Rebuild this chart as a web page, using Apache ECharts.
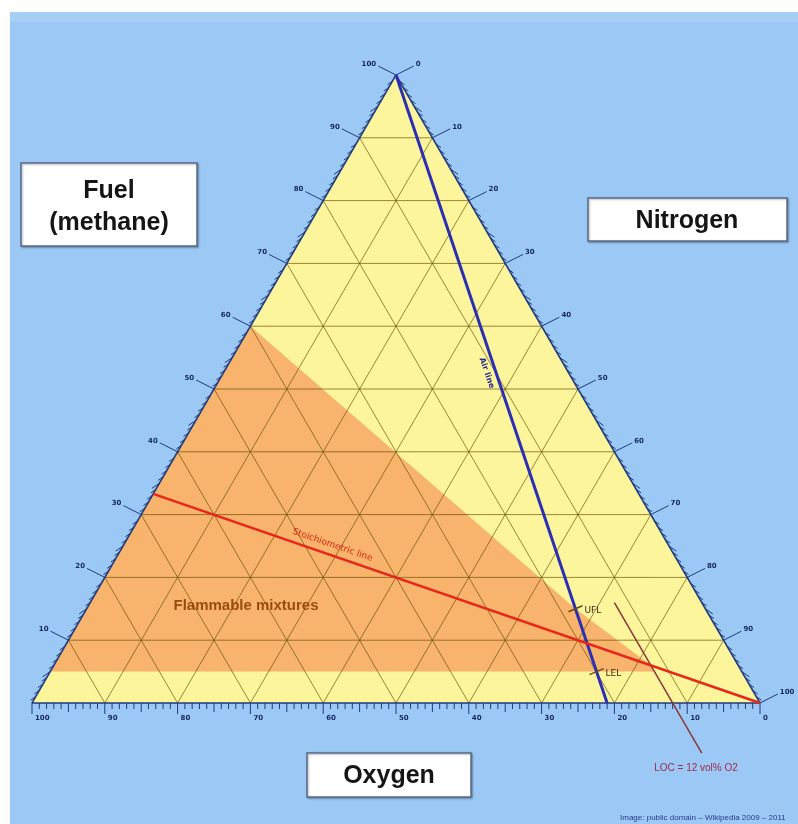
<!DOCTYPE html>
<html>
<head>
<meta charset="utf-8">
<title>Methane flammability diagram</title>
<script src="https://cdn.jsdelivr.net/npm/echarts@6/dist/echarts.min.js"></script>
<style>
  html, body { margin: 0; padding: 0; background: #fff; }
  #chart { width: 798px; height: 824px; }
</style>
</head>
<body>
<div id="chart"></div>
<script>
// all ternary points are [fuel, oxygen, nitrogen] in vol%
var gridLevels = [10, 20, 30, 40, 50, 60, 70, 80, 90];
var fuelTicks = [10, 20, 30, 40, 50, 60, 70, 80, 90, 100];
var nitrogenTicks = [0, 10, 20, 30, 40, 50, 60, 70, 80, 90, 100];
var oxygenTicks = [0, 10, 20, 30, 40, 50, 60, 70, 80, 90, 100];

var flammableRegion = [[60, 40, 0], [15, 17.85, 67.15], [6, 12, 82], [5, 12, 83], [5, 95, 0]];
var airLine = [[100, 0, 0], [0, 21, 79]];
var stoichLine = [[33.3, 66.7, 0], [0, 0, 100]];
var locLine = [[16, 12, 72], [-8, 12, 96]];
var limitNames = ['UFL', 'LEL'];
var limitPoints = [[15, 17.85, 67.15], [5, 19.95, 75.05]];

var H = Math.sqrt(3) / 2;
function toXY(p) { return [p[2] + p[0] / 2, p[0] * H]; }

var navy = '#1f3a7d';
var tickFont = 'bold 7px "DejaVu Sans"';

// edges: 0 = fuel (left), 1 = nitrogen (right), 2 = oxygen (bottom)
function edgePoint(edge, v) {
  if (edge === 0) return [v, 100 - v, 0];
  if (edge === 1) return [100 - v, 0, v];
  return [0, v, 100 - v];
}
var tickDir = [[-0.82, 0.57], [0.82, 0.57], [0, 1]];
var leadDir = [[-0.89, -0.45], [0.89, -0.45], [0, 1]];

// segments of the triangular grid
var gridSegs = [];
gridLevels.forEach(function (L) {
  gridSegs.push([[L, 100 - L, 0], [L, 0, 100 - L]]);
  gridSegs.push([[0, 100 - L, L], [100 - L, 0, L]]);
  gridSegs.push([[0, L, 100 - L], [100 - L, L, 0]]);
});

// minor ticks every 1 %
var tickData = [];
for (var e = 0; e < 3; e++) {
  for (var v = 1; v < 100; v++) {
    if (v % 10 !== 0) tickData.push([v, e]);
  }
}
var labelData = [];
fuelTicks.forEach(function (v) { labelData.push([v, 0]); });
nitrogenTicks.forEach(function (v) { labelData.push([v, 1]); });
oxygenTicks.forEach(function (v) { labelData.push([v, 2]); });

function segSeries(segs, style, z) {
  return {
    type: 'custom', z: z, silent: true, clip: false,
    data: segs.map(function (s) { return toXY(s[0]).concat(toXY(s[1])); }),
    renderItem: function (params, api) {
      var a = api.coord([api.value(0), api.value(1)]);
      var b = api.coord([api.value(2), api.value(3)]);
      return { type: 'line', shape: { x1: a[0], y1: a[1], x2: b[0], y2: b[1] }, style: style };
    }
  };
}

function polySeries(pts, fill, z) {
  return {
    type: 'custom', z: z, silent: true,
    data: [[0, 0]],
    renderItem: function (params, api) {
      return {
        type: 'polygon',
        shape: { points: pts.map(function (p) { return api.coord(toXY(p)); }) },
        style: { fill: fill }
      };
    }
  };
}

// text along a line, at fraction t, shifted sideways by off px
function lineLabel(line, t, off, text, color, font, z) {
  return {
    type: 'custom', z: z, silent: true, clip: false,
    data: [[0, 0]],
    renderItem: function (params, api) {
      var a = api.coord(toXY(line[0]));
      var b = api.coord(toXY(line[1]));
      var dx = b[0] - a[0], dy = b[1] - a[1];
      var len = Math.sqrt(dx * dx + dy * dy);
      var nx = dy / len, ny = -dx / len;
      return {
        type: 'text',
        x: a[0] + dx * t + nx * off,
        y: a[1] + dy * t + ny * off,
        rotation: -Math.atan2(dy, dx),
        style: { text: text, fill: color, font: font, align: 'center', verticalAlign: 'middle' }
      };
    }
  };
}

var chart = echarts.init(document.getElementById('chart'));

var series = [
  polySeries([[100, 0, 0], [0, 100, 0], [0, 0, 100]], '#fcf59c', 1),
  polySeries(flammableRegion, '#f8b36c', 2),
  segSeries(gridSegs, { stroke: 'rgba(100,75,0,0.65)', lineWidth: 1 }, 3),
  segSeries([[[100, 0, 0], [0, 100, 0]], [[100, 0, 0], [0, 0, 100]], [[0, 100, 0], [0, 0, 100]]],
    { stroke: navy, lineWidth: 1.5 }, 4),
  {
    type: 'custom', z: 4, silent: true, clip: false,
    data: tickData,
    renderItem: function (params, api) {
      var v = api.value(0), edge = api.value(1);
      var p = api.coord(toXY(edgePoint(edge, v)));
      var d = tickDir[edge];
      var len = v % 5 === 0 ? 9 : 6;
      return {
        type: 'line',
        shape: { x1: p[0], y1: p[1], x2: p[0] + d[0] * len, y2: p[1] + d[1] * len },
        style: { stroke: navy, lineWidth: 1 }
      };
    }
  },
  {
    type: 'custom', z: 4, silent: true, clip: false,
    data: labelData,
    renderItem: function (params, api) {
      var v = api.value(0), edge = api.value(1);
      var p = api.coord(toXY(edgePoint(edge, v)));
      var d = leadDir[edge];
      var len = edge === 2 ? 11 : 20;
      var ex = p[0] + d[0] * len, ey = p[1] + d[1] * len;
      var txt;
      if (edge === 0) txt = { x: ex - 2, y: ey - 2, align: 'right', verticalAlign: 'middle' };
      else if (edge === 1) txt = { x: ex + 2, y: ey - 2, align: 'left', verticalAlign: 'middle' };
      else txt = { x: p[0] + 3, y: p[1] + 15, align: 'left', verticalAlign: 'middle' };
      return {
        type: 'group',
        children: [
          { type: 'line', shape: { x1: p[0], y1: p[1], x2: ex, y2: ey }, style: { stroke: navy, lineWidth: 1 } },
          {
            type: 'text', x: txt.x, y: txt.y,
            style: { text: String(v), fill: '#16285e', font: tickFont, align: txt.align, verticalAlign: txt.verticalAlign }
          }
        ]
      };
    }
  },
  segSeries([airLine], { stroke: '#2b2fb4', lineWidth: 3 }, 6),
  segSeries([stoichLine], { stroke: '#e8261a', lineWidth: 2.5 }, 7),
  segSeries([locLine], { stroke: '#8c3636', lineWidth: 1.5 }, 6),
  {
    type: 'custom', z: 8, silent: true, clip: false,
    data: limitPoints.map(function (p, i) { return toXY(p).concat([i]); }),
    renderItem: function (params, api) {
      var p = api.coord([api.value(0), api.value(1)]);
      var i = api.value(2);
      return {
        type: 'group',
        children: [
          { type: 'line', shape: { x1: p[0] - 7, y1: p[1] + 3, x2: p[0] + 7, y2: p[1] - 3 }, style: { stroke: '#6b4a10', lineWidth: 1.5 } },
          {
            type: 'text', x: p[0] + 9, y: p[1] + 2,
            style: { text: limitNames[i], fill: '#3a2a10', font: '9px "DejaVu Sans"', align: 'left', verticalAlign: 'middle' }
          }
        ]
      };
    }
  },
  lineLabel(airLine, 0.47, -9, 'Air line', '#2a2a90', 'bold 8px "DejaVu Sans"', 8),
  lineLabel(stoichLine, 0.29, 10, 'Stoichiometric line', '#e02414', '9px "DejaVu Sans"', 8)
];

function box(x, y, w, h) {
  return {
    type: 'rect', shape: { x: x, y: y, width: w, height: h },
    style: { fill: '#fff', stroke: '#5a6b86', lineWidth: 1.5, shadowBlur: 2, shadowColor: 'rgba(0,0,0,0.3)', shadowOffsetX: 1, shadowOffsetY: 1 }
  };
}
var boxFont = 'bold 25px "Liberation Sans"';

chart.setOption({
  backgroundColor: '#fff',
  animation: false,
  grid: { left: 32, top: 75, width: 728, height: 628 },
  xAxis: { type: 'value', min: 0, max: 100, show: false },
  yAxis: { type: 'value', min: 0, max: 100 * H, show: false },
  graphic: [
    { type: 'rect', z: -10, shape: { x: 10, y: 12, width: 788, height: 812 }, style: { fill: '#9bc8f4' } },
    { type: 'rect', z: -9, shape: { x: 10, y: 12, width: 788, height: 10 }, style: { fill: '#a6cff6' } },
    box(21, 163, 176, 83),
    { type: 'text', x: 109, y: 191, style: { text: 'Fuel', font: boxFont, fill: '#151515', align: 'center', verticalAlign: 'middle' } },
    { type: 'text', x: 109, y: 223, style: { text: '(methane)', font: boxFont, fill: '#151515', align: 'center', verticalAlign: 'middle' } },
    box(588, 198, 199, 43),
    { type: 'text', x: 687, y: 221, style: { text: 'Nitrogen', font: boxFont, fill: '#151515', align: 'center', verticalAlign: 'middle' } },
    box(307, 753, 164, 44),
    { type: 'text', x: 389, y: 776, style: { text: 'Oxygen', font: boxFont, fill: '#151515', align: 'center', verticalAlign: 'middle' } },
    { type: 'text', x: 246, y: 606, z: 100, style: { text: 'Flammable mixtures', font: 'bold 15px "Liberation Sans"', fill: '#9a4c10', align: 'center', verticalAlign: 'middle' } },
    { type: 'text', x: 696, y: 768, z: 100, style: { text: 'LOC = 12 vol% O2', font: '10px "Liberation Sans"', fill: '#a02a4a', align: 'center', verticalAlign: 'middle' } },
    { type: 'text', x: 620, y: 818, z: 100, style: { text: 'Image: public domain – Wikipedia 2009 – 2011', font: '8px "Liberation Sans"', fill: '#2a3a8a', align: 'left', verticalAlign: 'middle' } }
  ],
  series: series
});
</script>
</body>
</html>
